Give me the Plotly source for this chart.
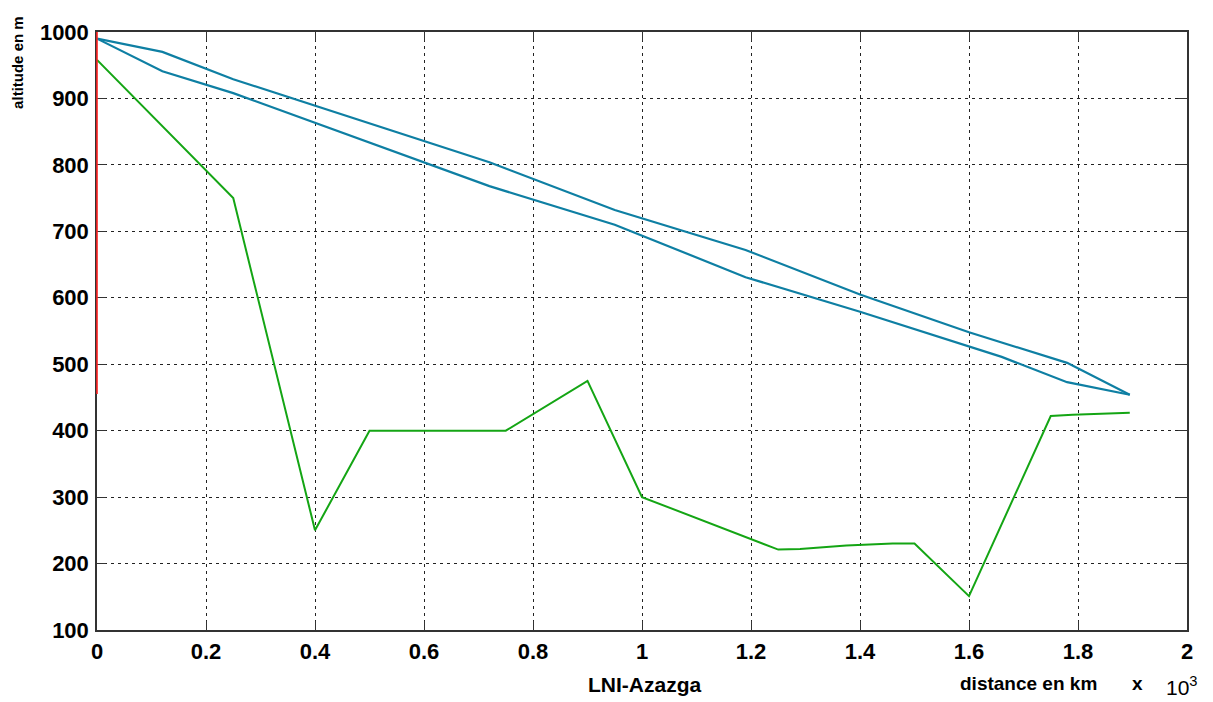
import plotly.graph_objects as go

# distances (x 10^3 km units as shown on the axis) and altitudes (m)
upper_dist = [0.0, 0.12, 0.25, 0.72, 0.95, 1.19, 1.40, 1.60, 1.78, 1.895]
upper_alt = [990, 970, 929, 804, 732, 672, 605, 548, 502, 454]

lower_dist = [0.0, 0.12, 0.25, 0.72, 0.95, 1.19, 1.40, 1.60, 1.66, 1.78, 1.895]
lower_alt = [990, 941, 908, 768, 710, 631, 579, 527, 511, 473, 454]

ground_dist = [0.0, 0.25, 0.40, 0.50, 0.75, 0.90, 1.00, 1.25, 1.29, 1.375, 1.46, 1.50, 1.60, 1.75, 1.79, 1.895]
ground_alt = [958, 750, 250, 400, 400, 475, 300, 221, 222, 227, 230, 230, 151, 422, 424, 427]

red_alt = [455, 1000]

x_ticks = [0, 0.2, 0.4, 0.6, 0.8, 1, 1.2, 1.4, 1.6, 1.8, 2]
x_labels = ["0", "0.2", "0.4", "0.6", "0.8", "1", "1.2", "1.4", "1.6", "1.8", "2"]
y_ticks = [100, 200, 300, 400, 500, 600, 700, 800, 900, 1000]
Y_MIN, Y_MAX = 100, 1000

BLUE = "#0E7FA3"
GREEN = "#14A514"
FONT = "Arial, Liberation Sans, sans-serif"

fig = go.Figure()
fig.add_trace(go.Scatter(x=upper_dist, y=upper_alt, mode="lines",
                         line=dict(color=BLUE, width=2.2), showlegend=False))
fig.add_trace(go.Scatter(x=lower_dist, y=lower_alt, mode="lines",
                         line=dict(color=BLUE, width=2.2), showlegend=False))
fig.add_trace(go.Scatter(x=ground_dist, y=ground_alt, mode="lines",
                         line=dict(color=GREEN, width=2), showlegend=False))

# red vertical segment on the y axis (paper-referenced so it is not clipped)
fig.add_shape(type="line", xref="paper", yref="paper", x0=0, x1=0,
              y0=(red_alt[0] - Y_MIN) / (Y_MAX - Y_MIN), y1=(red_alt[1] - Y_MIN) / (Y_MAX - Y_MIN),
              line=dict(color="#FF2020", width=1.6), layer="above")

axis_common = dict(
    showline=True, linecolor="#333333", linewidth=1.5, mirror="ticks",
    ticks="inside", ticklen=9, tickcolor="#333333", tickwidth=1.2,
    showgrid=True, gridcolor="#222222", gridwidth=1, griddash="3px,4px",
    zeroline=False,
    tickfont=dict(family=FONT, size=22, color="black", weight="bold"),
)

fig.update_xaxes(range=[0, 2], tickvals=x_ticks, ticktext=x_labels, ticklabelstandoff=1, **axis_common)
fig.update_yaxes(range=[Y_MIN, Y_MAX], tickvals=y_ticks, ticklabelstandoff=2, **axis_common)

# the page adds an 8px body margin, so the figure is 8px smaller and margins shifted
fig.update_layout(
    width=1205, height=694,
    margin=dict(l=89, r=26, t=22, b=72),
    plot_bgcolor="white", paper_bgcolor="white",
    font=dict(family=FONT, color="black"),
    annotations=[
        dict(text="<b>altitude en m</b>", xref="paper", yref="paper", x=-0.0725, y=0.95,
             xanchor="center", yanchor="middle", textangle=-90, showarrow=False,
             font=dict(family=FONT, size=15)),
        dict(text="<b>LNI-Azazga</b>", xref="paper", yref="paper", x=0.502, y=-0.0917,
             xanchor="center", yanchor="middle", showarrow=False,
             font=dict(family=FONT, size=21)),
        dict(text="<b>distance en km</b>", xref="paper", yref="paper", x=0.855, y=-0.09,
             xanchor="center", yanchor="middle", showarrow=False,
             font=dict(family=FONT, size=19)),
        dict(text="<b>x</b>", xref="paper", yref="paper", x=0.955, y=-0.09,
             xanchor="center", yanchor="middle", showarrow=False,
             font=dict(family=FONT, size=19)),
        dict(text="10<sup>3</sup>", xref="paper", yref="paper", x=1.012, y=-0.093,
             xanchor="right", yanchor="middle", showarrow=False,
             font=dict(family=FONT, size=21)),
    ],
)

fig.write_html("out.html")
